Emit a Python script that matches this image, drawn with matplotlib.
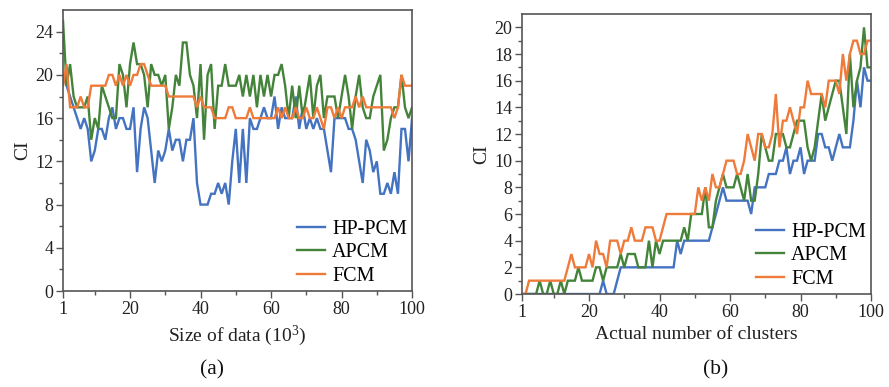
import matplotlib
matplotlib.use("Agg")
import matplotlib.pyplot as plt
from matplotlib.ticker import FixedLocator

plt.rcParams["font.family"] = ["Liberation Serif", "DejaVu Serif"]
plt.rcParams["mathtext.fontset"] = "custom"
plt.rcParams["mathtext.rm"] = "Liberation Serif"
plt.rcParams["mathtext.it"] = "Liberation Serif:italic"

# ---- data --------------------------------------------------------------
x_vals = list(range(1, 101))

# (a) CI vs size of data
hp_pcm_a = [20, 19, 18, 17, 16, 15, 16, 15, 12, 13,
            15, 15, 14, 16, 17, 15, 16, 16, 15, 15,
            17, 11, 15, 17, 16, 13, 10, 13, 12, 13,
            15, 13, 14, 14, 12, 14, 14, 16, 10, 8,
            8, 8, 9, 9, 10, 9, 10, 8, 12, 15,
            10, 15, 10, 16, 15, 15, 16, 17, 16, 16,
            18, 15, 17, 16, 16, 16, 18, 15, 17, 15,
            16, 15, 16, 15, 15, 13, 11, 16, 16, 16,
            16, 15, 15, 14, 12, 10, 14, 13, 11, 12,
            9, 9, 10, 9, 11, 9, 15, 15, 12, 16]
apcm_a = [25, 19, 21, 18, 17, 17, 17, 18, 14, 16,
          15, 19, 18, 17, 16, 16, 21, 20, 17, 21,
          23, 21, 21, 20, 17, 21, 20, 20, 19, 20,
          15, 17, 20, 19, 23, 23, 20, 19, 16, 21,
          14, 20, 21, 15, 19, 19, 21, 19, 19, 19,
          20, 18, 20, 18, 20, 17, 20, 18, 20, 18,
          20, 20, 21, 19, 16, 19, 16, 19, 16, 18,
          20, 16, 19, 20, 16, 18, 18, 18, 16, 18,
          20, 18, 15, 18, 20, 17, 16, 16, 18, 19,
          20, 13, 14, 16, 17, 17, 20, 17, 16, 17]
fcm_a = [19, 21, 17, 17, 17, 18, 17, 17, 19, 19,
         19, 19, 19, 20, 20, 19, 20, 19, 20, 19,
         20, 20, 21, 21, 20, 19, 19, 19, 19, 19,
         18, 18, 18, 18, 18, 18, 18, 18, 17, 18,
         17, 17, 17, 16, 16, 16, 16, 17, 17, 16,
         16, 16, 16, 17, 16, 16, 16, 16, 16, 16,
         16, 17, 16, 17, 16, 16, 17, 16, 16, 17,
         16, 16, 17, 16, 15, 17, 17, 16, 17, 16,
         17, 17, 17, 18, 17, 18, 17, 17, 17, 17,
         17, 17, 17, 17, 16, 17, 20, 19, 19, 19]

# (b) CI vs actual number of clusters
hp_pcm_b = [0, 0, 0, 0, 0, 0, 0, 0, 0, 0,
            0, 0, 0, 0, 0, 0, 0, 0, 0, 0,
            0, 0, 0, 1, 0, 0, 0, 1, 2, 2,
            2, 2, 2, 2, 2, 2, 2, 2, 2, 2,
            2, 2, 2, 2, 4, 3, 4, 4, 4, 4,
            4, 4, 4, 4, 5, 6, 7, 8, 7, 7,
            7, 7, 7, 7, 7, 6, 8, 8, 8, 8,
            9, 9, 9, 10, 10, 11, 9, 10, 10, 11,
            9, 10, 10, 10, 12, 12, 11, 11, 10, 11,
            12, 11, 11, 11, 13, 16, 14, 17, 16, 16]
apcm_b = [0, 0, 0, 0, 0, 1, 0, 0, 1, 0,
          0, 1, 0, 1, 1, 1, 2, 1, 1, 1,
          1, 2, 2, 1, 2, 2, 2, 2, 3, 2,
          3, 3, 3, 2, 2, 2, 4, 2, 4, 3,
          4, 4, 4, 4, 4, 4, 5, 4, 6, 6,
          6, 6, 8, 5, 5, 7, 8, 9, 8, 8,
          8, 9, 8, 7, 9, 7, 7, 9, 12, 11,
          10, 10, 12, 12, 12, 11, 11, 12, 13, 13,
          13, 11, 10, 11, 13, 15, 13, 14, 15, 16,
          16, 14, 12, 18, 14, 16, 17, 20, 17, 17]
fcm_b = [0, 0, 1, 1, 1, 1, 1, 1, 1, 1,
         1, 1, 1, 2, 3, 2, 2, 2, 2, 3,
         2, 4, 3, 3, 2, 4, 4, 4, 3, 4,
         4, 5, 4, 4, 4, 5, 5, 5, 4, 4,
         5, 6, 6, 6, 6, 6, 6, 6, 6, 6,
         8, 7, 8, 7, 9, 8, 8, 9, 10, 10,
         10, 9, 9, 10, 12, 11, 10, 12, 12, 11,
         11, 12, 15, 11, 13, 13, 14, 13, 12, 14,
         14, 16, 15, 15, 15, 15, 14, 16, 16, 16,
         15, 18, 16, 18, 19, 19, 18, 18, 19, 19]

series_names = ["HP-PCM", "APCM", "FCM"]
x_major = [1, 20, 40, 60, 80, 100]
x_minor = [10, 30, 50, 70, 90]

# ---- styling -----------------------------------------------------------
colors = ["#4473c2", "#44843a", "#ef7b3a"]
spine_col = "#555555"

fig = plt.figure(figsize=(8.89, 3.87), dpi=100)
ax_a = fig.add_axes([0.0709, 0.248, 0.3926, 0.726])
ax_b = fig.add_axes([0.5872, 0.2403, 0.3926, 0.7235])


def style_axes(ax, ylim, ymajor, yminor, xlabel):
    ax.set_xlim(1, 100)
    ax.set_ylim(*ylim)
    ax.xaxis.set_major_locator(FixedLocator(x_major))
    ax.xaxis.set_minor_locator(FixedLocator(x_minor))
    ax.yaxis.set_major_locator(FixedLocator(ymajor))
    ax.yaxis.set_minor_locator(FixedLocator(yminor))
    ax.tick_params(which="major", direction="out", length=5, width=1.0,
                   color=spine_col, labelsize=13, labelcolor="#222222", pad=2)
    ax.tick_params(which="minor", direction="out", length=3, width=1.0,
                   color=spine_col)
    for s in ax.spines.values():
        s.set_color(spine_col)
        s.set_linewidth(1.2)
    ax.set_ylabel("CI", fontsize=14, color="#222222", labelpad=3)
    ax.set_xlabel(xlabel, fontsize=14, color="#222222", labelpad=4)


def draw(ax, ys):
    for name, y, c in zip(series_names, ys, colors):
        ax.plot(x_vals, y, color=c, lw=1.7, label=name, solid_joinstyle="miter")
    ax.legend(loc="lower right", frameon=False, fontsize=14.5,
              handlelength=1.4, handletextpad=0.35, labelspacing=0.22,
              borderaxespad=0.15, borderpad=0.1)


draw(ax_a, [hp_pcm_a, apcm_a, fcm_a])
style_axes(ax_a, (0, 26), list(range(0, 25, 4)), list(range(2, 26, 4)),
           "Size of data (10$^3$)")

draw(ax_b, [hp_pcm_b, apcm_b, fcm_b])
style_axes(ax_b, (0, 21), list(range(0, 21, 2)), list(range(1, 21, 2)),
           "Actual number of clusters")

fig.text(212 / 889, 1 - 370 / 387, "(a)", fontsize=15.5, ha="center",
         va="center", color="#111111")
fig.text(716 / 889, 1 - 370 / 387, "(b)", fontsize=15.5, ha="center",
         va="center", color="#111111")

fig.savefig("out.png", dpi=100)
